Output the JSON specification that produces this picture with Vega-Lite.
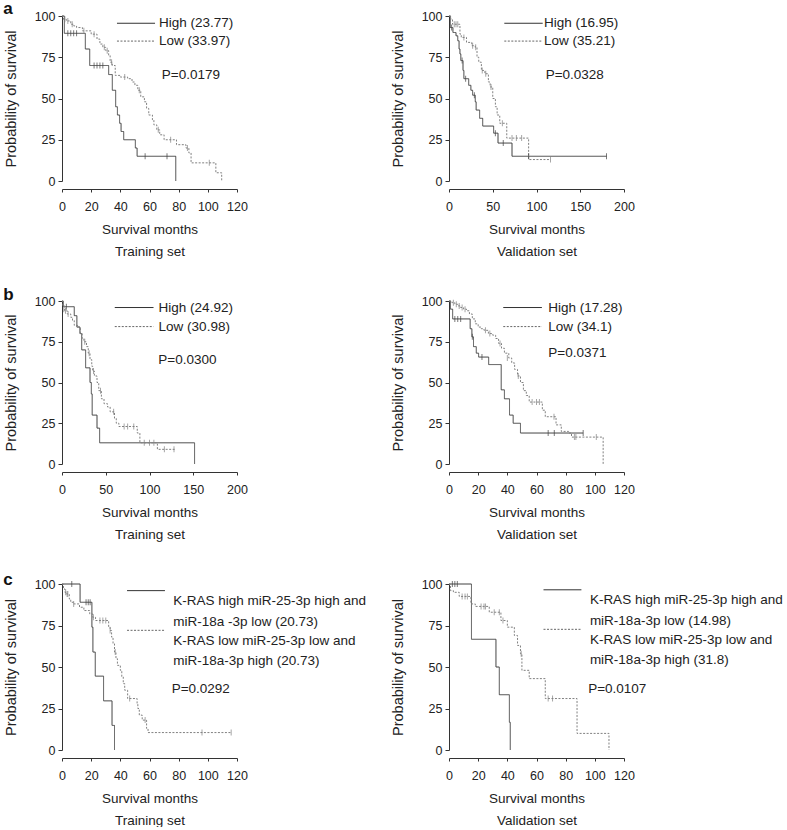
{
"$schema":"https://vega.github.io/schema/vega-lite/v6.json",
"padding":{"left":3,"top":0,"right":0,"bottom":0},
"config":{"font":"Liberation Sans","view":{"stroke":null},
"axis":{"grid":false,"domainColor":"#333","tickColor":"#333","labelColor":"#222","titleColor":"#222","labelFontSize":12.5,"titleFontSize":13.5,"titleFontWeight":"normal","labelFont":"Liberation Sans","titleFont":"Liberation Sans"},
"axisX":{"offset":8,"tickSize":3,"labelPadding":8,"titlePadding":10,"titleLineHeight":22,"labelFlush":false,"labelOverlap":false},
"axisY":{"tickSize":4,"labelPadding":3,"titlePadding":16,"titleFontSize":14.5},
"rule":{"color":"#333","strokeWidth":1},
"title":{"anchor":"start","frame":"bounds","fontSize":17,"fontWeight":"bold","color":"#111"}},
"datasets":{
"km":[
{"p":"a1","g":"High","t":0,"s":100},{"p":"a1","g":"High","t":1.6,"s":89.5},{"p":"a1","g":"High","t":16,"s":80},{"p":"a1","g":"High","t":19,"s":70},{"p":"a1","g":"High","t":32,"s":64.5},{"p":"a1","g":"High","t":34.5,"s":55},{"p":"a1","g":"High","t":36.8,"s":45},{"p":"a1","g":"High","t":38,"s":40},{"p":"a1","g":"High","t":39.5,"s":35},{"p":"a1","g":"High","t":40.5,"s":30},{"p":"a1","g":"High","t":42.3,"s":25},{"p":"a1","g":"High","t":50.3,"s":20},{"p":"a1","g":"High","t":51.5,"s":15},{"p":"a1","g":"High","t":78,"s":0},
{"p":"a1","g":"Low","t":0,"s":100},{"p":"a1","g":"Low","t":1,"s":98},{"p":"a1","g":"Low","t":3,"s":97},{"p":"a1","g":"Low","t":6,"s":95},{"p":"a1","g":"Low","t":8,"s":94},{"p":"a1","g":"Low","t":10,"s":93},{"p":"a1","g":"Low","t":14,"s":91},{"p":"a1","g":"Low","t":20,"s":89},{"p":"a1","g":"Low","t":24,"s":86},{"p":"a1","g":"Low","t":26,"s":83},{"p":"a1","g":"Low","t":28,"s":81},{"p":"a1","g":"Low","t":30,"s":79},{"p":"a1","g":"Low","t":32,"s":76},{"p":"a1","g":"Low","t":33,"s":72},{"p":"a1","g":"Low","t":34.5,"s":70},{"p":"a1","g":"Low","t":36.5,"s":64},{"p":"a1","g":"Low","t":40,"s":63},{"p":"a1","g":"Low","t":45,"s":62},{"p":"a1","g":"Low","t":48,"s":60},{"p":"a1","g":"Low","t":50,"s":58},{"p":"a1","g":"Low","t":52,"s":55},{"p":"a1","g":"Low","t":54,"s":51},{"p":"a1","g":"Low","t":56.5,"s":48},{"p":"a1","g":"Low","t":58,"s":44},{"p":"a1","g":"Low","t":59.5,"s":40},{"p":"a1","g":"Low","t":62,"s":37},{"p":"a1","g":"Low","t":63,"s":34},{"p":"a1","g":"Low","t":65,"s":31},{"p":"a1","g":"Low","t":67,"s":28},{"p":"a1","g":"Low","t":70,"s":25},{"p":"a1","g":"Low","t":78.5,"s":22},{"p":"a1","g":"Low","t":85,"s":20},{"p":"a1","g":"Low","t":87,"s":17},{"p":"a1","g":"Low","t":88.5,"s":11},{"p":"a1","g":"Low","t":105.5,"s":5},{"p":"a1","g":"Low","t":109.5,"s":0},
{"p":"a2","g":"High","t":0,"s":100},{"p":"a2","g":"High","t":1.5,"s":93},{"p":"a2","g":"High","t":4.5,"s":90},{"p":"a2","g":"High","t":8,"s":88},{"p":"a2","g":"High","t":10,"s":85},{"p":"a2","g":"High","t":11.5,"s":80},{"p":"a2","g":"High","t":12.5,"s":77},{"p":"a2","g":"High","t":13.5,"s":73},{"p":"a2","g":"High","t":16,"s":67},{"p":"a2","g":"High","t":17,"s":62},{"p":"a2","g":"High","t":22.5,"s":58},{"p":"a2","g":"High","t":25,"s":55},{"p":"a2","g":"High","t":27,"s":52},{"p":"a2","g":"High","t":30,"s":48},{"p":"a2","g":"High","t":31,"s":43},{"p":"a2","g":"High","t":35,"s":38},{"p":"a2","g":"High","t":38.5,"s":33.3},{"p":"a2","g":"High","t":51,"s":29},{"p":"a2","g":"High","t":56,"s":23},{"p":"a2","g":"High","t":72,"s":15},{"p":"a2","g":"High","t":180,"s":15},
{"p":"a2","g":"Low","t":0,"s":100},{"p":"a2","g":"Low","t":2,"s":98},{"p":"a2","g":"Low","t":4,"s":95},{"p":"a2","g":"Low","t":12.5,"s":89},{"p":"a2","g":"Low","t":14,"s":87},{"p":"a2","g":"Low","t":20,"s":84},{"p":"a2","g":"Low","t":26,"s":82},{"p":"a2","g":"Low","t":30,"s":81},{"p":"a2","g":"Low","t":32,"s":75},{"p":"a2","g":"Low","t":34,"s":72},{"p":"a2","g":"Low","t":37,"s":67},{"p":"a2","g":"Low","t":41,"s":65},{"p":"a2","g":"Low","t":45,"s":60},{"p":"a2","g":"Low","t":47,"s":57},{"p":"a2","g":"Low","t":50,"s":50},{"p":"a2","g":"Low","t":53,"s":45},{"p":"a2","g":"Low","t":55,"s":40},{"p":"a2","g":"Low","t":58,"s":35},{"p":"a2","g":"Low","t":66,"s":26},{"p":"a2","g":"Low","t":91,"s":13},{"p":"a2","g":"Low","t":116,"s":13},
{"p":"b1","g":"High","t":0,"s":100},{"p":"b1","g":"High","t":1.5,"s":96.5},{"p":"b1","g":"High","t":14,"s":91},{"p":"b1","g":"High","t":17,"s":84},{"p":"b1","g":"High","t":20.5,"s":80},{"p":"b1","g":"High","t":22.5,"s":70},{"p":"b1","g":"High","t":27,"s":59},{"p":"b1","g":"High","t":32,"s":50},{"p":"b1","g":"High","t":33.5,"s":43},{"p":"b1","g":"High","t":34.5,"s":30},{"p":"b1","g":"High","t":40,"s":22},{"p":"b1","g":"High","t":43,"s":13},{"p":"b1","g":"High","t":151.5,"s":0},
{"p":"b1","g":"Low","t":0,"s":100},{"p":"b1","g":"Low","t":1,"s":97},{"p":"b1","g":"Low","t":3,"s":94},{"p":"b1","g":"Low","t":6,"s":92},{"p":"b1","g":"Low","t":10,"s":90},{"p":"b1","g":"Low","t":12,"s":88},{"p":"b1","g":"Low","t":14,"s":85},{"p":"b1","g":"Low","t":19,"s":84},{"p":"b1","g":"Low","t":21,"s":80},{"p":"b1","g":"Low","t":23,"s":77},{"p":"b1","g":"Low","t":25,"s":75},{"p":"b1","g":"Low","t":28,"s":72},{"p":"b1","g":"Low","t":30,"s":68},{"p":"b1","g":"Low","t":32,"s":64},{"p":"b1","g":"Low","t":34,"s":60},{"p":"b1","g":"Low","t":35,"s":57},{"p":"b1","g":"Low","t":37,"s":54},{"p":"b1","g":"Low","t":40,"s":50},{"p":"b1","g":"Low","t":42,"s":45},{"p":"b1","g":"Low","t":45,"s":40},{"p":"b1","g":"Low","t":48,"s":37},{"p":"b1","g":"Low","t":52,"s":35},{"p":"b1","g":"Low","t":55,"s":32},{"p":"b1","g":"Low","t":60,"s":28},{"p":"b1","g":"Low","t":62,"s":25},{"p":"b1","g":"Low","t":65,"s":23},{"p":"b1","g":"Low","t":86,"s":19},{"p":"b1","g":"Low","t":89,"s":13},{"p":"b1","g":"Low","t":109,"s":9},{"p":"b1","g":"Low","t":130,"s":9},
{"p":"b2","g":"High","t":0,"s":100},{"p":"b2","g":"High","t":1,"s":95},{"p":"b2","g":"High","t":2.5,"s":89},{"p":"b2","g":"High","t":14.5,"s":83},{"p":"b2","g":"High","t":15.7,"s":78},{"p":"b2","g":"High","t":16.8,"s":72},{"p":"b2","g":"High","t":18.7,"s":68},{"p":"b2","g":"High","t":20.3,"s":65.6},{"p":"b2","g":"High","t":27.2,"s":61},{"p":"b2","g":"High","t":35.8,"s":45.5},{"p":"b2","g":"High","t":38,"s":40},{"p":"b2","g":"High","t":41.5,"s":30},{"p":"b2","g":"High","t":44,"s":25},{"p":"b2","g":"High","t":49,"s":19},{"p":"b2","g":"High","t":92,"s":19},
{"p":"b2","g":"Low","t":0,"s":100},{"p":"b2","g":"Low","t":2,"s":99},{"p":"b2","g":"Low","t":4,"s":98},{"p":"b2","g":"Low","t":6,"s":97},{"p":"b2","g":"Low","t":8,"s":96},{"p":"b2","g":"Low","t":10,"s":95},{"p":"b2","g":"Low","t":12,"s":94},{"p":"b2","g":"Low","t":14,"s":92},{"p":"b2","g":"Low","t":16,"s":89},{"p":"b2","g":"Low","t":18,"s":86},{"p":"b2","g":"Low","t":20,"s":84},{"p":"b2","g":"Low","t":22,"s":83},{"p":"b2","g":"Low","t":24,"s":82},{"p":"b2","g":"Low","t":27,"s":80},{"p":"b2","g":"Low","t":30,"s":79},{"p":"b2","g":"Low","t":32,"s":77},{"p":"b2","g":"Low","t":34,"s":74},{"p":"b2","g":"Low","t":36,"s":71},{"p":"b2","g":"Low","t":38,"s":68},{"p":"b2","g":"Low","t":41,"s":65},{"p":"b2","g":"Low","t":43,"s":62},{"p":"b2","g":"Low","t":45,"s":58},{"p":"b2","g":"Low","t":47,"s":54},{"p":"b2","g":"Low","t":49,"s":50},{"p":"b2","g":"Low","t":51,"s":45},{"p":"b2","g":"Low","t":53,"s":42},{"p":"b2","g":"Low","t":55,"s":38},{"p":"b2","g":"Low","t":64,"s":33},{"p":"b2","g":"Low","t":66,"s":29},{"p":"b2","g":"Low","t":73.4,"s":24},{"p":"b2","g":"Low","t":77,"s":20},{"p":"b2","g":"Low","t":82,"s":19},{"p":"b2","g":"Low","t":84,"s":16.5},{"p":"b2","g":"Low","t":105.7,"s":0},
{"p":"c1","g":"High","t":0,"s":100},{"p":"c1","g":"High","t":12.4,"s":89},{"p":"c1","g":"High","t":20.5,"s":74},{"p":"c1","g":"High","t":21.2,"s":59},{"p":"c1","g":"High","t":22.8,"s":44.5},{"p":"c1","g":"High","t":28.5,"s":29.6},{"p":"c1","g":"High","t":34.3,"s":14.8},{"p":"c1","g":"High","t":36,"s":0},
{"p":"c1","g":"Low","t":0,"s":100},{"p":"c1","g":"Low","t":1,"s":97},{"p":"c1","g":"Low","t":2,"s":95},{"p":"c1","g":"Low","t":3,"s":94},{"p":"c1","g":"Low","t":5,"s":91},{"p":"c1","g":"Low","t":6,"s":89},{"p":"c1","g":"Low","t":8,"s":88},{"p":"c1","g":"Low","t":12,"s":86},{"p":"c1","g":"Low","t":15,"s":84},{"p":"c1","g":"Low","t":19,"s":82},{"p":"c1","g":"Low","t":21,"s":80},{"p":"c1","g":"Low","t":23,"s":78},{"p":"c1","g":"Low","t":32,"s":74},{"p":"c1","g":"Low","t":33,"s":72},{"p":"c1","g":"Low","t":34,"s":68},{"p":"c1","g":"Low","t":35,"s":64},{"p":"c1","g":"Low","t":36,"s":59},{"p":"c1","g":"Low","t":37,"s":55},{"p":"c1","g":"Low","t":38,"s":51},{"p":"c1","g":"Low","t":40,"s":48},{"p":"c1","g":"Low","t":41,"s":44},{"p":"c1","g":"Low","t":42,"s":40},{"p":"c1","g":"Low","t":43,"s":36},{"p":"c1","g":"Low","t":45,"s":31},{"p":"c1","g":"Low","t":51.5,"s":28},{"p":"c1","g":"Low","t":52,"s":25},{"p":"c1","g":"Low","t":53,"s":21},{"p":"c1","g":"Low","t":55,"s":18},{"p":"c1","g":"Low","t":58,"s":13},{"p":"c1","g":"Low","t":59,"s":10.5},{"p":"c1","g":"Low","t":116,"s":10.5},
{"p":"c2","g":"High","t":0,"s":100},{"p":"c2","g":"High","t":15.4,"s":66.7},{"p":"c2","g":"High","t":32.2,"s":50},{"p":"c2","g":"High","t":34.5,"s":33.3},{"p":"c2","g":"High","t":41.4,"s":16.7},{"p":"c2","g":"High","t":42,"s":0},
{"p":"c2","g":"Low","t":0,"s":100},{"p":"c2","g":"Low","t":1,"s":96},{"p":"c2","g":"Low","t":3,"s":95},{"p":"c2","g":"Low","t":7,"s":92.5},{"p":"c2","g":"Low","t":15,"s":88},{"p":"c2","g":"Low","t":18,"s":86.5},{"p":"c2","g":"Low","t":27.6,"s":83},{"p":"c2","g":"Low","t":35.6,"s":78},{"p":"c2","g":"Low","t":40,"s":74},{"p":"c2","g":"Low","t":44.8,"s":69},{"p":"c2","g":"Low","t":47,"s":63},{"p":"c2","g":"Low","t":49,"s":58},{"p":"c2","g":"Low","t":50,"s":48},{"p":"c2","g":"Low","t":55,"s":43},{"p":"c2","g":"Low","t":66,"s":31},{"p":"c2","g":"Low","t":87.8,"s":10},{"p":"c2","g":"Low","t":109.7,"s":0}
],
"cen":[
{"p":"a1","g":"High","t":4,"s":89.5},{"p":"a1","g":"High","t":6,"s":89.5},{"p":"a1","g":"High","t":8,"s":89.5},{"p":"a1","g":"High","t":10,"s":89.5},{"p":"a1","g":"High","t":22,"s":70},{"p":"a1","g":"High","t":24,"s":70},{"p":"a1","g":"High","t":26,"s":70},{"p":"a1","g":"High","t":28,"s":70},{"p":"a1","g":"High","t":57,"s":15},{"p":"a1","g":"High","t":72,"s":15},
{"p":"a1","g":"Low","t":2,"s":98},{"p":"a1","g":"Low","t":4,"s":97},{"p":"a1","g":"Low","t":7,"s":95},{"p":"a1","g":"Low","t":15,"s":91},{"p":"a1","g":"Low","t":22,"s":89},{"p":"a1","g":"Low","t":29,"s":81},{"p":"a1","g":"Low","t":31,"s":79},{"p":"a1","g":"Low","t":34,"s":72},{"p":"a1","g":"Low","t":43,"s":63},{"p":"a1","g":"Low","t":53,"s":55},{"p":"a1","g":"Low","t":66,"s":31},{"p":"a1","g":"Low","t":74.5,"s":25},{"p":"a1","g":"Low","t":86,"s":20},{"p":"a1","g":"Low","t":101,"s":11},
{"p":"a2","g":"High","t":3,"s":93},{"p":"a2","g":"High","t":15,"s":73},{"p":"a2","g":"High","t":19,"s":62},{"p":"a2","g":"High","t":29,"s":52},{"p":"a2","g":"High","t":53,"s":29},{"p":"a2","g":"High","t":62,"s":23},{"p":"a2","g":"High","t":91,"s":15},{"p":"a2","g":"High","t":180,"s":15},
{"p":"a2","g":"Low","t":6,"s":95},{"p":"a2","g":"Low","t":8,"s":95},{"p":"a2","g":"Low","t":10,"s":95},{"p":"a2","g":"Low","t":17,"s":87},{"p":"a2","g":"Low","t":27,"s":82},{"p":"a2","g":"Low","t":30.5,"s":81},{"p":"a2","g":"Low","t":38,"s":67},{"p":"a2","g":"Low","t":42,"s":65},{"p":"a2","g":"Low","t":48,"s":57},{"p":"a2","g":"Low","t":61,"s":35},{"p":"a2","g":"Low","t":72,"s":26},{"p":"a2","g":"Low","t":77,"s":26},{"p":"a2","g":"Low","t":83,"s":26},{"p":"a2","g":"Low","t":116,"s":13},
{"p":"b1","g":"High","t":5,"s":96.5},
{"p":"b1","g":"Low","t":2,"s":95},{"p":"b1","g":"Low","t":4,"s":94},{"p":"b1","g":"Low","t":7,"s":92},{"p":"b1","g":"Low","t":26,"s":75},{"p":"b1","g":"Low","t":31,"s":68},{"p":"b1","g":"Low","t":36,"s":57},{"p":"b1","g":"Low","t":44,"s":45},{"p":"b1","g":"Low","t":59,"s":32},{"p":"b1","g":"Low","t":71,"s":23},{"p":"b1","g":"Low","t":75,"s":23},{"p":"b1","g":"Low","t":82,"s":23},{"p":"b1","g":"Low","t":94,"s":13},{"p":"b1","g":"Low","t":100,"s":13},{"p":"b1","g":"Low","t":105,"s":13},{"p":"b1","g":"Low","t":117,"s":9},{"p":"b1","g":"Low","t":128,"s":9},
{"p":"b2","g":"High","t":4,"s":89},{"p":"b2","g":"High","t":6,"s":89},{"p":"b2","g":"High","t":8,"s":89},{"p":"b2","g":"High","t":16,"s":78},{"p":"b2","g":"High","t":22.6,"s":65.6},{"p":"b2","g":"High","t":68,"s":19},{"p":"b2","g":"High","t":72.2,"s":19},{"p":"b2","g":"High","t":92,"s":19},
{"p":"b2","g":"Low","t":3,"s":99},{"p":"b2","g":"Low","t":5,"s":98},{"p":"b2","g":"Low","t":7,"s":97},{"p":"b2","g":"Low","t":9,"s":96},{"p":"b2","g":"Low","t":11,"s":95},{"p":"b2","g":"Low","t":25,"s":82},{"p":"b2","g":"Low","t":28,"s":80},{"p":"b2","g":"Low","t":35,"s":74},{"p":"b2","g":"Low","t":40,"s":65},{"p":"b2","g":"Low","t":47.5,"s":54},{"p":"b2","g":"Low","t":57,"s":38},{"p":"b2","g":"Low","t":60,"s":38},{"p":"b2","g":"Low","t":62,"s":38},{"p":"b2","g":"Low","t":72,"s":29},{"p":"b2","g":"Low","t":86,"s":16.5},{"p":"b2","g":"Low","t":87,"s":16.5},{"p":"b2","g":"Low","t":101,"s":16.5},
{"p":"c1","g":"High","t":6.7,"s":100},{"p":"c1","g":"High","t":16.5,"s":89},{"p":"c1","g":"High","t":18,"s":89},{"p":"c1","g":"High","t":19.3,"s":89},
{"p":"c1","g":"Low","t":2.5,"s":95},{"p":"c1","g":"Low","t":3.5,"s":94},{"p":"c1","g":"Low","t":4,"s":94},{"p":"c1","g":"Low","t":8,"s":88},{"p":"c1","g":"Low","t":21.5,"s":80},{"p":"c1","g":"Low","t":26,"s":78},{"p":"c1","g":"Low","t":28,"s":78},{"p":"c1","g":"Low","t":30,"s":78},{"p":"c1","g":"Low","t":33,"s":72},{"p":"c1","g":"Low","t":36.5,"s":59},{"p":"c1","g":"Low","t":46.4,"s":31},{"p":"c1","g":"Low","t":57,"s":18},{"p":"c1","g":"Low","t":96,"s":10.5},{"p":"c1","g":"Low","t":116,"s":10.5},
{"p":"c2","g":"High","t":2.3,"s":100},{"p":"c2","g":"High","t":4,"s":100},{"p":"c2","g":"High","t":5.7,"s":100},
{"p":"c2","g":"Low","t":9,"s":92.5},{"p":"c2","g":"Low","t":11,"s":92.5},{"p":"c2","g":"Low","t":12.6,"s":92.5},{"p":"c2","g":"Low","t":22,"s":86.5},{"p":"c2","g":"Low","t":24,"s":86.5},{"p":"c2","g":"Low","t":25,"s":86.5},{"p":"c2","g":"Low","t":31,"s":83},{"p":"c2","g":"Low","t":34.5,"s":83},{"p":"c2","g":"Low","t":37,"s":78},{"p":"c2","g":"Low","t":49.5,"s":58},{"p":"c2","g":"Low","t":68,"s":31},{"p":"c2","g":"Low","t":71,"s":31}
]},
"columns":2,"spacing":{"row":120,"column":212},"bounds":"flush",
"concat":[
{"width":175,"height":165,"title":{"text":"a","offset":-8},"layer":[
{"data":{"name":"km"},"transform":[{"filter":"datum.p=='a1'"}],"mark":{"type":"line","interpolate":"step-after","strokeWidth":1},"encoding":{"x":{"field":"t","type":"quantitative","scale":{"domain":[0,120],"nice":false},"axis":{"values":[0,20,40,60,80,100,120],"tickCount":7,"title":["Survival months","Training set"]}},"y":{"field":"s","type":"quantitative","scale":{"domain":[0,100]},"axis":{"values":[0,25,50,75,100],"tickCount":5,"title":"Probability of survival"}},"color":{"field":"g","type":"nominal","scale":{"domain":["High","Low"],"range":["#404040","#808080"]},"legend":null},"strokeDash":{"field":"g","type":"nominal","scale":{"domain":["High","Low"],"range":[[1,0],[2,1.5]]},"legend":null}}},
{"data":{"name":"cen"},"transform":[{"filter":"datum.p=='a1'"}],"mark":{"type":"tick","orient":"vertical","size":6,"thickness":1},"encoding":{"x":{"field":"t","type":"quantitative"},"y":{"field":"s","type":"quantitative"},"color":{"field":"g","type":"nominal","legend":null}}},
{"data":{"values":[{}]},"mark":"rule","encoding":{"x":{"datum":37.7,"type":"quantitative"},"x2":{"datum":63.8},"y":{"datum":95.6,"type":"quantitative"}}},
{"data":{"values":[{}]},"mark":{"type":"rule","strokeDash":[2,1.5],"color":"#666"},"encoding":{"x":{"datum":37.7,"type":"quantitative"},"x2":{"datum":63.8},"y":{"datum":84.8,"type":"quantitative"}}},
{"data":{"values":[{}]},"mark":{"type":"text","align":"left","baseline":"middle","fontSize":13.5,"color":"#222"},"encoding":{"x":{"datum":66.5,"type":"quantitative"},"y":{"datum":95.6,"type":"quantitative"},"text":{"value":"High (23.77)"}}},
{"data":{"values":[{}]},"mark":{"type":"text","align":"left","baseline":"middle","fontSize":13.5,"color":"#222"},"encoding":{"x":{"datum":66.5,"type":"quantitative"},"y":{"datum":84.8,"type":"quantitative"},"text":{"value":"Low (33.97)"}}},
{"data":{"values":[{}]},"mark":{"type":"text","align":"left","baseline":"middle","fontSize":13.5,"color":"#222"},"encoding":{"x":{"datum":68.4,"type":"quantitative"},"y":{"datum":64.2,"type":"quantitative"},"text":{"value":"P=0.0179"}}}
]},
{"width":175,"height":165,"layer":[
{"data":{"name":"km"},"transform":[{"filter":"datum.p=='a2'"}],"mark":{"type":"line","interpolate":"step-after","strokeWidth":1},"encoding":{"x":{"field":"t","type":"quantitative","scale":{"domain":[0,200],"nice":false},"axis":{"values":[0,50,100,150,200],"tickCount":5,"title":["Survival months","Validation set"]}},"y":{"field":"s","type":"quantitative","scale":{"domain":[0,100]},"axis":{"values":[0,25,50,75,100],"tickCount":5,"title":"Probability of survival"}},"color":{"field":"g","type":"nominal","scale":{"domain":["High","Low"],"range":["#404040","#808080"]},"legend":null},"strokeDash":{"field":"g","type":"nominal","scale":{"domain":["High","Low"],"range":[[1,0],[2,1.5]]},"legend":null}}},
{"data":{"name":"cen"},"transform":[{"filter":"datum.p=='a2'"}],"mark":{"type":"tick","orient":"vertical","size":6,"thickness":1},"encoding":{"x":{"field":"t","type":"quantitative"},"y":{"field":"s","type":"quantitative"},"color":{"field":"g","type":"nominal","legend":null}}},
{"data":{"values":[{}]},"mark":"rule","encoding":{"x":{"datum":63.2,"type":"quantitative"},"x2":{"datum":107.1},"y":{"datum":95.6,"type":"quantitative"}}},
{"data":{"values":[{}]},"mark":{"type":"rule","strokeDash":[2,1.5],"color":"#666"},"encoding":{"x":{"datum":63.2,"type":"quantitative"},"x2":{"datum":107.1},"y":{"datum":84.8,"type":"quantitative"}}},
{"data":{"values":[{}]},"mark":{"type":"text","align":"left","baseline":"middle","fontSize":13.5,"color":"#222"},"encoding":{"x":{"datum":108.6,"type":"quantitative"},"y":{"datum":95.6,"type":"quantitative"},"text":{"value":"High (16.95)"}}},
{"data":{"values":[{}]},"mark":{"type":"text","align":"left","baseline":"middle","fontSize":13.5,"color":"#222"},"encoding":{"x":{"datum":108.6,"type":"quantitative"},"y":{"datum":84.8,"type":"quantitative"},"text":{"value":"Low (35.21)"}}},
{"data":{"values":[{}]},"mark":{"type":"text","align":"left","baseline":"middle","fontSize":13.5,"color":"#222"},"encoding":{"x":{"datum":110.5,"type":"quantitative"},"y":{"datum":64.2,"type":"quantitative"},"text":{"value":"P=0.0328"}}}
]},
{"width":175,"height":163,"title":{"text":"b","offset":-9},"layer":[
{"data":{"name":"km"},"transform":[{"filter":"datum.p=='b1'"}],"mark":{"type":"line","interpolate":"step-after","strokeWidth":1},"encoding":{"x":{"field":"t","type":"quantitative","scale":{"domain":[0,200],"nice":false},"axis":{"values":[0,50,100,150,200],"tickCount":5,"title":["Survival months","Training set"]}},"y":{"field":"s","type":"quantitative","scale":{"domain":[0,100]},"axis":{"values":[0,25,50,75,100],"tickCount":5,"title":"Probability of survival"}},"color":{"field":"g","type":"nominal","scale":{"domain":["High","Low"],"range":["#404040","#808080"]},"legend":null},"strokeDash":{"field":"g","type":"nominal","scale":{"domain":["High","Low"],"range":[[1,0],[2,1.5]]},"legend":null}}},
{"data":{"name":"cen"},"transform":[{"filter":"datum.p=='b1'"}],"mark":{"type":"tick","orient":"vertical","size":6,"thickness":1},"encoding":{"x":{"field":"t","type":"quantitative"},"y":{"field":"s","type":"quantitative"},"color":{"field":"g","type":"nominal","legend":null}}},
{"data":{"values":[{}]},"mark":"rule","encoding":{"x":{"datum":60.3,"type":"quantitative"},"x2":{"datum":104.6},"y":{"datum":96,"type":"quantitative"}}},
{"data":{"values":[{}]},"mark":{"type":"rule","strokeDash":[2,1.5],"color":"#666"},"encoding":{"x":{"datum":60.3,"type":"quantitative"},"x2":{"datum":104.6},"y":{"datum":84.3,"type":"quantitative"}}},
{"data":{"values":[{}]},"mark":{"type":"text","align":"left","baseline":"middle","fontSize":13.5,"color":"#222"},"encoding":{"x":{"datum":110.4,"type":"quantitative"},"y":{"datum":96,"type":"quantitative"},"text":{"value":"High (24.92)"}}},
{"data":{"values":[{}]},"mark":{"type":"text","align":"left","baseline":"middle","fontSize":13.5,"color":"#222"},"encoding":{"x":{"datum":110.4,"type":"quantitative"},"y":{"datum":84.3,"type":"quantitative"},"text":{"value":"Low (30.98)"}}},
{"data":{"values":[{}]},"mark":{"type":"text","align":"left","baseline":"middle","fontSize":13.5,"color":"#222"},"encoding":{"x":{"datum":110,"type":"quantitative"},"y":{"datum":63.9,"type":"quantitative"},"text":{"value":"P=0.0300"}}}
]},
{"width":175,"height":163,"layer":[
{"data":{"name":"km"},"transform":[{"filter":"datum.p=='b2'"}],"mark":{"type":"line","interpolate":"step-after","strokeWidth":1},"encoding":{"x":{"field":"t","type":"quantitative","scale":{"domain":[0,120],"nice":false},"axis":{"values":[0,20,40,60,80,100,120],"tickCount":7,"title":["Survival months","Validation set"]}},"y":{"field":"s","type":"quantitative","scale":{"domain":[0,100]},"axis":{"values":[0,25,50,75,100],"tickCount":5,"title":"Probability of survival"}},"color":{"field":"g","type":"nominal","scale":{"domain":["High","Low"],"range":["#404040","#808080"]},"legend":null},"strokeDash":{"field":"g","type":"nominal","scale":{"domain":["High","Low"],"range":[[1,0],[2,1.5]]},"legend":null}}},
{"data":{"name":"cen"},"transform":[{"filter":"datum.p=='b2'"}],"mark":{"type":"tick","orient":"vertical","size":6,"thickness":1},"encoding":{"x":{"field":"t","type":"quantitative"},"y":{"field":"s","type":"quantitative"},"color":{"field":"g","type":"nominal","legend":null}}},
{"data":{"values":[{}]},"mark":"rule","encoding":{"x":{"datum":37.2,"type":"quantitative"},"x2":{"datum":63.7},"y":{"datum":96,"type":"quantitative"}}},
{"data":{"values":[{}]},"mark":{"type":"rule","strokeDash":[2,1.5],"color":"#666"},"encoding":{"x":{"datum":37.2,"type":"quantitative"},"x2":{"datum":63.7},"y":{"datum":84.3,"type":"quantitative"}}},
{"data":{"values":[{}]},"mark":{"type":"text","align":"left","baseline":"middle","fontSize":13.5,"color":"#222"},"encoding":{"x":{"datum":68.1,"type":"quantitative"},"y":{"datum":96,"type":"quantitative"},"text":{"value":"High (17.28)"}}},
{"data":{"values":[{}]},"mark":{"type":"text","align":"left","baseline":"middle","fontSize":13.5,"color":"#222"},"encoding":{"x":{"datum":68.1,"type":"quantitative"},"y":{"datum":84.3,"type":"quantitative"},"text":{"value":"Low (34.1)"}}},
{"data":{"values":[{}]},"mark":{"type":"text","align":"left","baseline":"middle","fontSize":13.5,"color":"#222"},"encoding":{"x":{"datum":68.1,"type":"quantitative"},"y":{"datum":68.2,"type":"quantitative"},"text":{"value":"P=0.0371"}}}
]},
{"width":175,"height":166,"title":{"text":"c","offset":-11},"layer":[
{"data":{"name":"km"},"transform":[{"filter":"datum.p=='c1'"}],"mark":{"type":"line","interpolate":"step-after","strokeWidth":1},"encoding":{"x":{"field":"t","type":"quantitative","scale":{"domain":[0,120],"nice":false},"axis":{"values":[0,20,40,60,80,100,120],"tickCount":7,"title":["Survival months","Training set"]}},"y":{"field":"s","type":"quantitative","scale":{"domain":[0,100]},"axis":{"values":[0,25,50,75,100],"tickCount":5,"title":"Probability of survival"}},"color":{"field":"g","type":"nominal","scale":{"domain":["High","Low"],"range":["#404040","#808080"]},"legend":null},"strokeDash":{"field":"g","type":"nominal","scale":{"domain":["High","Low"],"range":[[1,0],[2,1.5]]},"legend":null}}},
{"data":{"name":"cen"},"transform":[{"filter":"datum.p=='c1'"}],"mark":{"type":"tick","orient":"vertical","size":6,"thickness":1},"encoding":{"x":{"field":"t","type":"quantitative"},"y":{"field":"s","type":"quantitative"},"color":{"field":"g","type":"nominal","legend":null}}},
{"data":{"values":[{}]},"mark":"rule","encoding":{"x":{"datum":44.6,"type":"quantitative"},"x2":{"datum":70.6},"y":{"datum":96,"type":"quantitative"}}},
{"data":{"values":[{}]},"mark":{"type":"rule","strokeDash":[2,1.5],"color":"#666"},"encoding":{"x":{"datum":44.6,"type":"quantitative"},"x2":{"datum":70.6},"y":{"datum":72.1,"type":"quantitative"}}},
{"data":{"values":[{}]},"mark":{"type":"text","align":"left","baseline":"middle","fontSize":13.5,"lineHeight":20.7,"color":"#222"},"encoding":{"x":{"datum":76.3,"type":"quantitative"},"y":{"datum":89.75,"type":"quantitative"},"text":{"value":["K-RAS high miR-25-3p high and","miR-18a -3p low (20.73)"]}}},
{"data":{"values":[{}]},"mark":{"type":"text","align":"left","baseline":"middle","fontSize":13.5,"lineHeight":20.7,"color":"#222"},"encoding":{"x":{"datum":76.3,"type":"quantitative"},"y":{"datum":65.85,"type":"quantitative"},"text":{"value":["K-RAS low miR-25-3p low and","miR-18a-3p high (20.73)"]}}},
{"data":{"values":[{}]},"mark":{"type":"text","align":"left","baseline":"middle","fontSize":13.5,"color":"#222"},"encoding":{"x":{"datum":75.2,"type":"quantitative"},"y":{"datum":36.6,"type":"quantitative"},"text":{"value":"P=0.0292"}}}
]},
{"width":175,"height":166,"layer":[
{"data":{"name":"km"},"transform":[{"filter":"datum.p=='c2'"}],"mark":{"type":"line","interpolate":"step-after","strokeWidth":1},"encoding":{"x":{"field":"t","type":"quantitative","scale":{"domain":[0,120],"nice":false},"axis":{"values":[0,20,40,60,80,100,120],"tickCount":7,"title":["Survival months","Validation set"]}},"y":{"field":"s","type":"quantitative","scale":{"domain":[0,100]},"axis":{"values":[0,25,50,75,100],"tickCount":5,"title":"Probability of survival"}},"color":{"field":"g","type":"nominal","scale":{"domain":["High","Low"],"range":["#404040","#808080"]},"legend":null},"strokeDash":{"field":"g","type":"nominal","scale":{"domain":["High","Low"],"range":[[1,0],[2,1.5]]},"legend":null}}},
{"data":{"name":"cen"},"transform":[{"filter":"datum.p=='c2'"}],"mark":{"type":"tick","orient":"vertical","size":6,"thickness":1},"encoding":{"x":{"field":"t","type":"quantitative"},"y":{"field":"s","type":"quantitative"},"color":{"field":"g","type":"nominal","legend":null}}},
{"data":{"values":[{}]},"mark":"rule","encoding":{"x":{"datum":64.8,"type":"quantitative"},"x2":{"datum":90.8},"y":{"datum":96.5,"type":"quantitative"}}},
{"data":{"values":[{}]},"mark":{"type":"rule","strokeDash":[2,1.5],"color":"#666"},"encoding":{"x":{"datum":64.8,"type":"quantitative"},"x2":{"datum":90.8},"y":{"datum":72.7,"type":"quantitative"}}},
{"data":{"values":[{}]},"mark":{"type":"text","align":"left","baseline":"middle","fontSize":13.5,"lineHeight":20.7,"color":"#222"},"encoding":{"x":{"datum":96.6,"type":"quantitative"},"y":{"datum":90.45,"type":"quantitative"},"text":{"value":["K-RAS high miR-25-3p high and","miR-18a-3p low (14.98)"]}}},
{"data":{"values":[{}]},"mark":{"type":"text","align":"left","baseline":"middle","fontSize":13.5,"lineHeight":20.7,"color":"#222"},"encoding":{"x":{"datum":96.6,"type":"quantitative"},"y":{"datum":66.45,"type":"quantitative"},"text":{"value":["K-RAS low miR-25-3p low and","miR-18a-3p high (31.8)"]}}},
{"data":{"values":[{}]},"mark":{"type":"text","align":"left","baseline":"middle","fontSize":13.5,"color":"#222"},"encoding":{"x":{"datum":95.4,"type":"quantitative"},"y":{"datum":37,"type":"quantitative"},"text":{"value":"P=0.0107"}}}
]}
]
}
